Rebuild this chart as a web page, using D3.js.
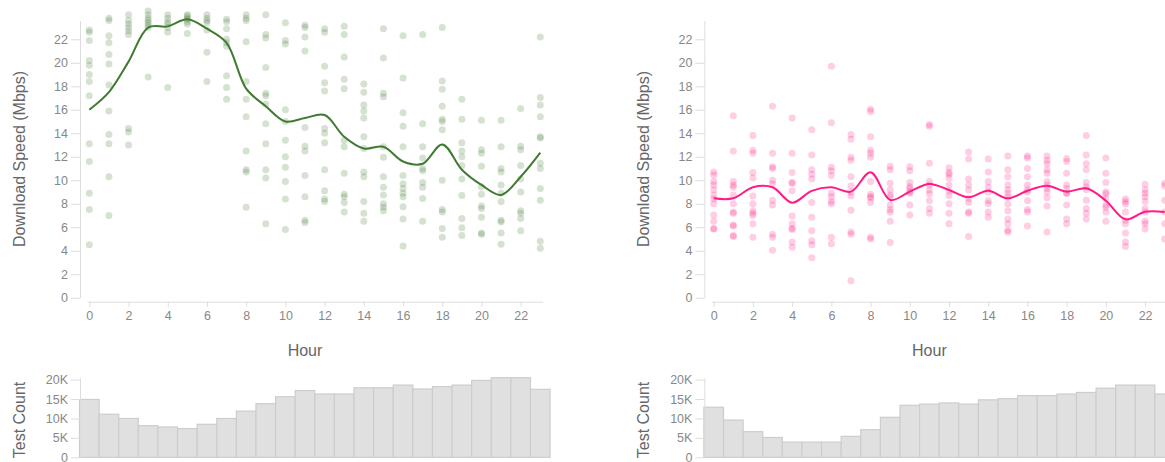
<!DOCTYPE html>
<html>
<head>
<meta charset="utf-8">
<script src="https://cdn.jsdelivr.net/npm/d3@7"></script>
<style>
  body { margin: 0; background: #fff; }
  svg { display: block; font-family: "Liberation Sans", Arial, sans-serif; }
  .axis .domain, .axis line { stroke: #ddd; }
  .axis text { fill: #888; font-size: 12.5px; }
  .title { fill: #666; font-size: 16px; }
</style>
</head>
<body>
<div id="chart"></div>
<script>
var hours = d3.range(0, 24);
var speedTicks = d3.range(0, 23, 2);
var hourTicks = d3.range(0, 23, 2);
var countTicks = [0, 5000, 10000, 15000, 20000];

// individual tests per hour, left panel (Mbps)
var greenSpeeds = [
  [22.8, 22.6, 21.9, 20.2, 19.8, 19.0, 18.4, 17.2, 13.1, 11.6, 8.9, 7.5, 4.5],
  [23.8, 23.6, 22.3, 21.7, 20.7, 19.9, 18.1, 15.9, 13.9, 13.1, 10.3, 7.0],
  [24.1, 23.6, 23.3, 23.0, 22.7, 22.4, 14.4, 14.1, 13.0],
  [24.4, 24.1, 23.8, 23.6, 23.4, 23.2, 23.0, 18.8],
  [24.1, 23.8, 23.5, 23.3, 23.0, 22.6, 17.9],
  [24.1, 24.0, 23.8, 23.7, 23.5, 23.3, 22.5],
  [24.1, 23.8, 23.6, 23.4, 22.8, 20.9, 18.4],
  [23.7, 23.5, 22.9, 22.0, 21.7, 21.4, 18.9, 17.9, 16.9],
  [24.1, 23.8, 23.6, 21.8, 18.4, 16.9, 15.4, 12.5, 10.9, 10.7, 7.7],
  [24.1, 22.4, 22.1, 19.6, 17.4, 17.2, 16.5, 14.8, 13.1, 10.9, 10.2, 6.3],
  [23.4, 21.9, 21.6, 16.0, 15.0, 13.4, 12.0, 11.1, 9.9, 8.4, 5.8],
  [23.2, 23.0, 22.2, 21.0, 14.5, 12.9, 12.5, 10.4, 8.6, 6.6, 6.4],
  [22.9, 22.6, 19.7, 18.3, 17.6, 14.4, 14.0, 13.2, 10.9, 9.1, 8.4, 8.2],
  [23.1, 22.4, 20.5, 18.6, 17.8, 13.4, 12.85, 10.6, 8.8, 8.6, 8.1, 7.3],
  [18.2, 17.5, 16.4, 15.9, 15.3, 13.7, 12.7, 10.7, 10.3, 8.2, 7.2, 6.5],
  [22.9, 20.4, 17.4, 17.1, 12.85, 11.95, 10.3, 9.4, 8.75, 8.0, 7.7, 7.4],
  [22.3, 18.7, 15.75, 14.6, 12.85, 10.4, 9.7, 9.3, 8.9, 8.6, 7.75, 6.7, 4.4],
  [22.4, 14.8, 12.85, 11.9, 11.0, 10.8, 9.8, 9.4, 8.45, 6.5],
  [23.0, 18.45, 17.75, 16.3, 15.2, 15.0, 14.3, 10.0, 7.5, 7.3, 5.9, 5.15],
  [16.9, 15.2, 13.2, 12.5, 12.0, 11.25, 10.1, 8.7, 6.75, 5.95, 5.3],
  [15.1, 12.6, 12.3, 11.2, 9.45, 8.8, 7.8, 7.6, 6.85, 5.5, 5.4],
  [15.1, 12.85, 11.0, 10.7, 9.6, 8.9, 8.2, 6.6, 6.45, 5.5, 4.55],
  [16.1, 12.9, 12.6, 11.25, 10.1, 9.0, 7.4, 7.2, 6.75, 5.7],
  [22.2, 17.05, 16.4, 15.4, 13.7, 13.6, 11.45, 11.0, 9.3, 8.3, 4.8, 4.2]
];
var greenTrend = [16.0, 17.5, 20.1, 23.0, 23.1, 23.7, 22.9, 21.7, 17.8, 16.3, 15.0, 15.3,
  15.55, 13.7, 12.7, 12.85, 11.6, 11.4, 13.05, 10.9, 9.6, 8.75, 10.3, 12.35];
var greenCounts = [14900, 11100, 10000, 8150, 7800, 7400, 8500, 10000, 11900, 13800, 15600, 17200,
  16300, 16300, 17900, 17900, 18600, 17600, 18200, 18600, 19800, 20500, 20500, 17500];

// individual tests per hour, right panel (Mbps)
var pinkSpeeds = [
  [10.7, 10.45, 9.9, 9.6, 9.2, 8.75, 8.4, 8.0, 7.05, 6.5, 5.9, 5.85],
  [15.5, 12.5, 9.9, 9.6, 9.4, 8.75, 8.0, 7.3, 7.2, 6.2, 6.1, 5.3, 5.2],
  [13.8, 12.55, 12.3, 10.65, 10.2, 8.65, 8.0, 7.4, 7.2, 7.0, 6.3, 5.15],
  [16.3, 12.3, 11.15, 11.0, 10.0, 9.7, 8.3, 7.9, 5.4, 5.15, 4.05],
  [15.3, 12.3, 10.65, 9.8, 9.75, 9.1, 6.95, 6.3, 5.9, 5.8, 4.75, 4.3],
  [14.3, 12.15, 10.9, 10.5, 10.1, 8.1, 6.85, 5.7, 4.85, 4.5, 3.4],
  [19.7, 14.9, 11.1, 10.8, 10.4, 8.9, 8.6, 8.2, 8.0, 5.15, 4.6],
  [13.9, 13.5, 11.95, 11.7, 10.3, 9.5, 9.0, 8.65, 7.45, 5.6, 5.4, 1.45],
  [16.05, 15.85, 13.7, 12.55, 12.3, 11.95, 9.9, 8.8, 8.6, 8.5, 8.1, 5.15, 5.0],
  [11.2, 10.9, 9.75, 9.2, 8.75, 8.6, 7.9, 7.5, 7.3, 6.5, 4.7],
  [11.15, 10.8, 9.8, 9.45, 9.3, 9.0, 8.9, 7.9, 7.05],
  [14.75, 14.6, 11.45, 9.9, 9.6, 9.17, 8.85, 8.25, 7.6, 7.2],
  [11.07, 10.65, 10.5, 10.2, 9.6, 9.1, 8.7, 8.0, 7.2, 6.3],
  [12.4, 11.8, 10.1, 9.6, 9.17, 8.45, 8.1, 7.3, 7.2, 5.2],
  [11.8, 10.7, 9.9, 9.4, 9.0, 8.25, 8.0, 7.3, 6.85],
  [12.07, 10.9, 10.3, 9.6, 9.2, 8.9, 8.6, 8.0, 7.4, 6.7, 6.3, 5.75, 5.6],
  [12.07, 11.9, 11.0, 10.3, 9.6, 9.2, 9.0, 8.25, 7.5, 7.3, 6.1],
  [12.07, 11.7, 11.4, 10.9, 10.6, 9.9, 9.6, 9.3, 9.0, 8.5, 7.8, 5.6],
  [11.85, 11.6, 10.6, 9.6, 9.3, 8.9, 8.9, 7.9, 6.7, 6.3],
  [13.8, 12.15, 11.4, 10.9, 9.8, 9.45, 9.2, 8.3, 7.6, 7.2, 6.7],
  [11.9, 10.6, 9.8, 9.0, 8.85, 8.45, 7.9, 7.7, 7.3, 6.5],
  [8.4, 8.2, 8.0, 7.3, 6.6, 6.3, 5.5, 4.75, 4.35],
  [9.65, 9.2, 8.9, 8.6, 8.2, 7.6, 7.3, 6.5, 6.3, 5.85],
  [9.75, 9.5, 8.3, 7.3, 6.3, 5.0]
];
var pinkTrend = [8.46, 8.46, 9.4, 9.4, 8.09, 9.1, 9.4, 9.03, 10.68, 8.32, 9.03, 9.68,
  9.17, 8.55, 9.11, 8.46, 9.11, 9.54, 9.03, 9.31, 8.26, 6.67, 7.32, 7.3];
var pinkCounts = [12900, 9600, 6600, 5100, 3900, 3900, 3900, 5400, 7100, 10300, 13400, 13700,
  14000, 13700, 14800, 15100, 15900, 15900, 16300, 16700, 17800, 18600, 18600, 16300];

var width = 1165, height = 462;
var svg = d3.select("#chart").append("svg")
  .attr("width", width)
  .attr("height", height);

var x = d3.scaleLinear().domain([-0.5, 23.5]).range([79.5, 550.1]);
var xAxisScale = d3.scaleLinear().domain([-0.12, 23.12]).range([x(-0.12), x(23.12)]);
var y = d3.scaleLinear().domain([0, 23.6]).range([297.7, 20.5]);
var yCount = d3.scaleLinear().domain([0, 20500]).range([457.3, 377.7]);

function styleAxis(g){
  g.attr("class", "axis");
  g.selectAll("text").attr("font-family", null);
}

function drawPanel(offset, speeds, trend, counts, color){
  var g = svg.append("g").attr("transform", "translate(" + offset + ",0)");

  // speed axes
  g.append("g")
    .attr("transform", "translate(80,0)")
    .call(d3.axisLeft(y).tickValues(speedTicks).tickSize(9).tickSizeOuter(0).tickPadding(3))
    .call(styleAxis);
  g.append("g")
    .attr("transform", "translate(0,301.7)")
    .call(d3.axisBottom(xAxisScale).tickValues(hourTicks).tickSize(5).tickSizeOuter(0).tickPadding(4))
    .call(styleAxis);

  // dots
  var points = [];
  speeds.forEach(function(vals, h){
    vals.forEach(function(v){ points.push({hour: hours[h], speed: v}); });
  });
  g.append("g").selectAll("circle")
    .data(points)
    .enter()
    .append("circle")
    .attr("cx", function(d){ return x(d.hour); })
    .attr("cy", function(d){ return y(d.speed); })
    .attr("r", 3.5)
    .attr("fill", color)
    .attr("fill-opacity", 0.22);

  // trend line
  var line = d3.line()
    .x(function(d, i){ return x(hours[i]); })
    .y(function(d){ return y(d); })
    .curve(d3.curveCatmullRom.alpha(0.5));
  g.append("path")
    .datum(trend)
    .attr("fill", "none")
    .attr("stroke", color)
    .attr("stroke-width", 2)
    .attr("d", line);

  g.append("text")
    .attr("class", "title")
    .attr("transform", "translate(19,159) rotate(-90)")
    .attr("text-anchor", "middle")
    .attr("dy", "0.35em")
    .text("Download Speed (Mbps)");
  g.append("text")
    .attr("class", "title")
    .attr("x", 305)
    .attr("y", 356)
    .attr("text-anchor", "middle")
    .text("Hour");

  // test count histogram
  g.append("g").selectAll("rect")
    .data(counts)
    .enter()
    .append("rect")
    .attr("x", function(d, i){ return x(hours[i] - 0.5); })
    .attr("width", function(d, i){ return x(hours[i] + 0.5) - x(hours[i] - 0.5); })
    .attr("y", function(d){ return yCount(d); })
    .attr("height", function(d){ return yCount(0) - yCount(d); })
    .attr("fill", "#e0e0e0")
    .attr("stroke", "#cdcdcd")
    .attr("stroke-width", 1.2);

  g.append("g")
    .attr("transform", "translate(80,0)")
    .call(d3.axisLeft(yCount).tickValues(countTicks).tickSize(9).tickSizeOuter(0).tickPadding(3)
      .tickFormat(function(d){ return d === 0 ? "0" : (d / 1000) + "K"; }))
    .call(styleAxis);

  g.append("text")
    .attr("class", "title")
    .attr("transform", "translate(19,420) rotate(-90)")
    .attr("text-anchor", "middle")
    .attr("dy", "0.35em")
    .text("Test Count");
}

drawPanel(0, greenSpeeds, greenTrend, greenCounts, "#3f7a30");
drawPanel(624.4, pinkSpeeds, pinkTrend, pinkCounts, "#ff1a86");
</script>
</body>
</html>
